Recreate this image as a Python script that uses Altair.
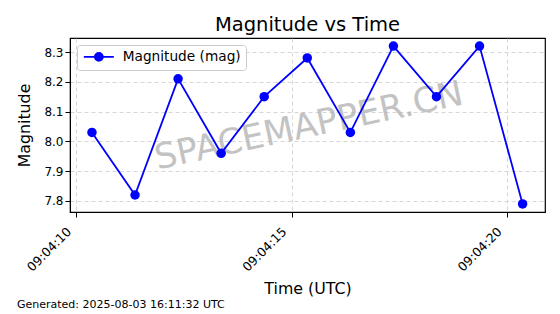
import altair as alt
import pandas as pd

# ---- data ----
times = [
    "2025-08-03T09:04:10.36Z", "2025-08-03T09:04:11.36Z", "2025-08-03T09:04:12.36Z",
    "2025-08-03T09:04:13.36Z", "2025-08-03T09:04:14.36Z", "2025-08-03T09:04:15.36Z",
    "2025-08-03T09:04:16.36Z", "2025-08-03T09:04:17.36Z", "2025-08-03T09:04:18.36Z",
    "2025-08-03T09:04:19.36Z", "2025-08-03T09:04:20.36Z",
]
magnitudes = [8.03, 7.82, 8.21, 7.96, 8.15, 8.28, 8.03, 8.32, 8.15, 8.32, 7.79]
series_name = "Magnitude (mag)"
y_ticks = [7.8, 7.9, 8.0, 8.1, 8.2, 8.3]
x_tick_seconds = [10, 15, 20]
title_text = "Magnitude vs Time"
footer_text = "Generated: 2025-08-03 16:11:32 UTC"
watermark_text = "SPACEMAPPER.CN"

FONT = "DejaVu Sans"
BLUE = "#0000ff"

df = pd.DataFrame({"time": times, "mag": magnitudes, "series": [series_name] * len(times)})


def t(sec, ms=0):
    return alt.DateTime(year=2025, month=8, date=3, hours=9, minutes=4,
                        seconds=sec, milliseconds=ms, utc=True)


x_enc = alt.X(
    "time:T",
    scale=alt.Scale(type="utc", domain=[t(9, 850), t(20, 880)]),
    axis=alt.Axis(values=[t(s) for s in x_tick_seconds], format="%H:%M:%S",
                  labelAngle=-45, labelAlign="right", labelBaseline="top",
                  labelPadding=8, labelOffset=-12, labelFontSize=12.5,
                  title="Time (UTC)", titlePadding=8),
)
y_enc = alt.Y(
    "mag:Q",
    scale=alt.Scale(domain=[7.763, 8.347], nice=False, zero=False),
    axis=alt.Axis(values=y_ticks, format=".1f", title="Magnitude", titlePadding=11),
)
# legend symbol: a short line with a dot on it (unit = sqrt(size)/2 = 5 px)
legend_symbol = ("M-1,0L5,0"
                 "M2.8,0A0.8,0.8 0 1,1 1.2,0A0.8,0.8 0 1,1 2.8,0Z")
color_enc = alt.Color(
    "series:N",
    scale=alt.Scale(domain=[series_name], range=[BLUE]),
    legend=alt.Legend(
        title=None, orient="none", legendX=7, legendY=7,
        symbolType=legend_symbol, symbolSize=100, symbolStrokeWidth=1.8,
        symbolFillColor=BLUE, symbolStrokeColor=BLUE,
        labelFontSize=13.7, labelFont=FONT, labelColor="black", labelOffset=27,
        padding=5, strokeColor="#cccccc", fillColor="white", cornerRadius=3,
    ),
)

base = alt.Chart(df)
line = base.mark_line(strokeWidth=1.8).encode(x=x_enc, y=y_enc, color=color_enc)
points = base.mark_point(filled=True, size=90, opacity=1, shape="circle").encode(
    x=x_enc, y=y_enc, color=color_enc)

watermark = alt.Chart(pd.DataFrame({"w": [watermark_text]})).mark_text(
    font=FONT, fontSize=35, color="#b0b0b0", opacity=0.75, angle=348,
    align="center", baseline="middle",
).encode(text="w:N", x=alt.value(239), y=alt.value(88))

footer = alt.Chart(pd.DataFrame({"f": [footer_text]})).mark_text(
    font=FONT, fontSize=11, color="black", align="left", baseline="middle",
).encode(text="f:N", x=alt.value(-53), y=alt.value(267))

chart = alt.layer(watermark, line, points, footer).properties(
    width=475, height=174,
    title=alt.TitleParams(title_text, font=FONT, fontSize=19.5, fontWeight="normal",
                          anchor="middle", frame="group", offset=3, color="black"),
    autosize=alt.AutoSizeParams(type="none"),
    padding={"left": 70, "top": 38, "right": 15, "bottom": 102},
).configure_axis(
    labelFont=FONT, titleFont=FONT, labelFontSize=12, titleFontSize=15.8,
    titleFontWeight="normal", labelColor="black", titleColor="black",
    domainColor="black", tickColor="black", tickSize=5, domainWidth=1,
    gridColor="#cccccc", gridDash=[4, 3], gridWidth=0.8,
).configure_view(stroke="black", strokeWidth=1.2)

chart.save("out.html", embed_options={"renderer": "svg", "actions": False})
